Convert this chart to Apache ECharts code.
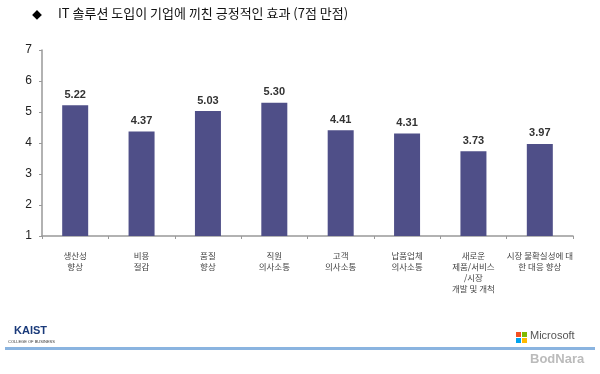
<!DOCTYPE html>
<html><head><meta charset="utf-8">
<script src="https://cdn.jsdelivr.net/npm/echarts@6/dist/echarts.min.js"></script>
<style>html,body{margin:0;padding:0;background:#fff}#c{width:600px;height:374px}</style>
</head><body><div id="c"></div>
<script>
var categories = ['생산성\n향상','비용\n절감','품질\n향상','직원\n의사소통','고객\n의사소통','납품업체\n의사소통','새로운\n제품/서비스\n/시장\n개발 및 개척','시장 불확실성에 대\n한 대응 향상'];
var values = [5.22, 4.37, 5.03, 5.30, 4.41, 4.31, 3.73, 3.97];
var yTicks = [1,2,3,4,5,6,7];
var titleText = 'IT 솔루션 도입이 기업에 끼친 긍정적인 효과 (7점 만점)';

var chart = echarts.init(document.getElementById('c'), null, {renderer:'canvas'});
var font = '"Noto Sans CJK KR", "Noto Sans", sans-serif';
chart.setOption({
  animation:false,
  textStyle:{fontFamily:font},
  grid:{left:42, top:50, right:27, bottom:138, containLabel:false},
  graphic:[
    {type:'text', left:32, top:10, style:{text:'◆', fontSize:10, fill:'#000', fontFamily:font}},
    {type:'text', left:58, top:7, style:{text:titleText, fontSize:13, fill:'#111', fontFamily:font}},
    {type:'text', left:14, top:325, style:{text:'KAIST', fontSize:11, fontWeight:'bold', fill:'#1a3a7a', fontFamily:'Arial, sans-serif'}},
    {type:'text', left:8, top:340, style:{text:'COLLEGE OF BUSINESS', fontSize:4, fill:'#333', fontFamily:'Arial, sans-serif'}},
    {type:'rect', left:5, top:347, shape:{width:590, height:3}, style:{fill:'#8ab4e0'}},
    {type:'rect', left:516, top:332, shape:{width:5, height:5}, style:{fill:'#f25022'}},
    {type:'rect', left:522, top:332, shape:{width:5, height:5}, style:{fill:'#7fba00'}},
    {type:'rect', left:516, top:338, shape:{width:5, height:5}, style:{fill:'#00a4ef'}},
    {type:'rect', left:522, top:338, shape:{width:5, height:5}, style:{fill:'#ffb900'}},
    {type:'text', left:530, top:330, style:{text:'Microsoft', fontSize:11, fill:'#555', fontFamily:'Arial, sans-serif'}},
    {type:'text', left:530, top:353, style:{text:'BodNara', fontSize:13, fontWeight:'bold', fill:'#bbb', fontFamily:'Arial, sans-serif'}}
  ],
  xAxis:{
    type:'category', data:categories,
    axisLine:{lineStyle:{color:'#999', width:1.5}},
    axisTick:{show:true, alignWithLabel:false, length:3, lineStyle:{color:'#999'}},
    axisLabel:{interval:0, fontSize:8.5, color:'#444', lineHeight:11, margin:14, fontFamily:font}
  },
  yAxis:{
    type:'value', min:1, max:7, interval:1,
    axisLine:{show:true, lineStyle:{color:'#999', width:1.5}},
    axisTick:{show:true, length:3, lineStyle:{color:'#999'}},
    splitLine:{show:false},
    axisLabel:{fontSize:12, color:'#222', margin:10, fontFamily:'Arial, sans-serif',
      formatter:function(v){return yTicks.indexOf(v)>=0? String(v):'';}}
  },
  series:[{
    type:'bar', data:values, barWidth:26,
    itemStyle:{color:'#4f4f88'},
    label:{show:true, position:'top', distance:5, fontSize:11, fontWeight:'bold', color:'#333', fontFamily:'Arial, sans-serif',
      formatter:function(p){return p.value.toFixed(2);}}
  }]
});
</script></body></html>
